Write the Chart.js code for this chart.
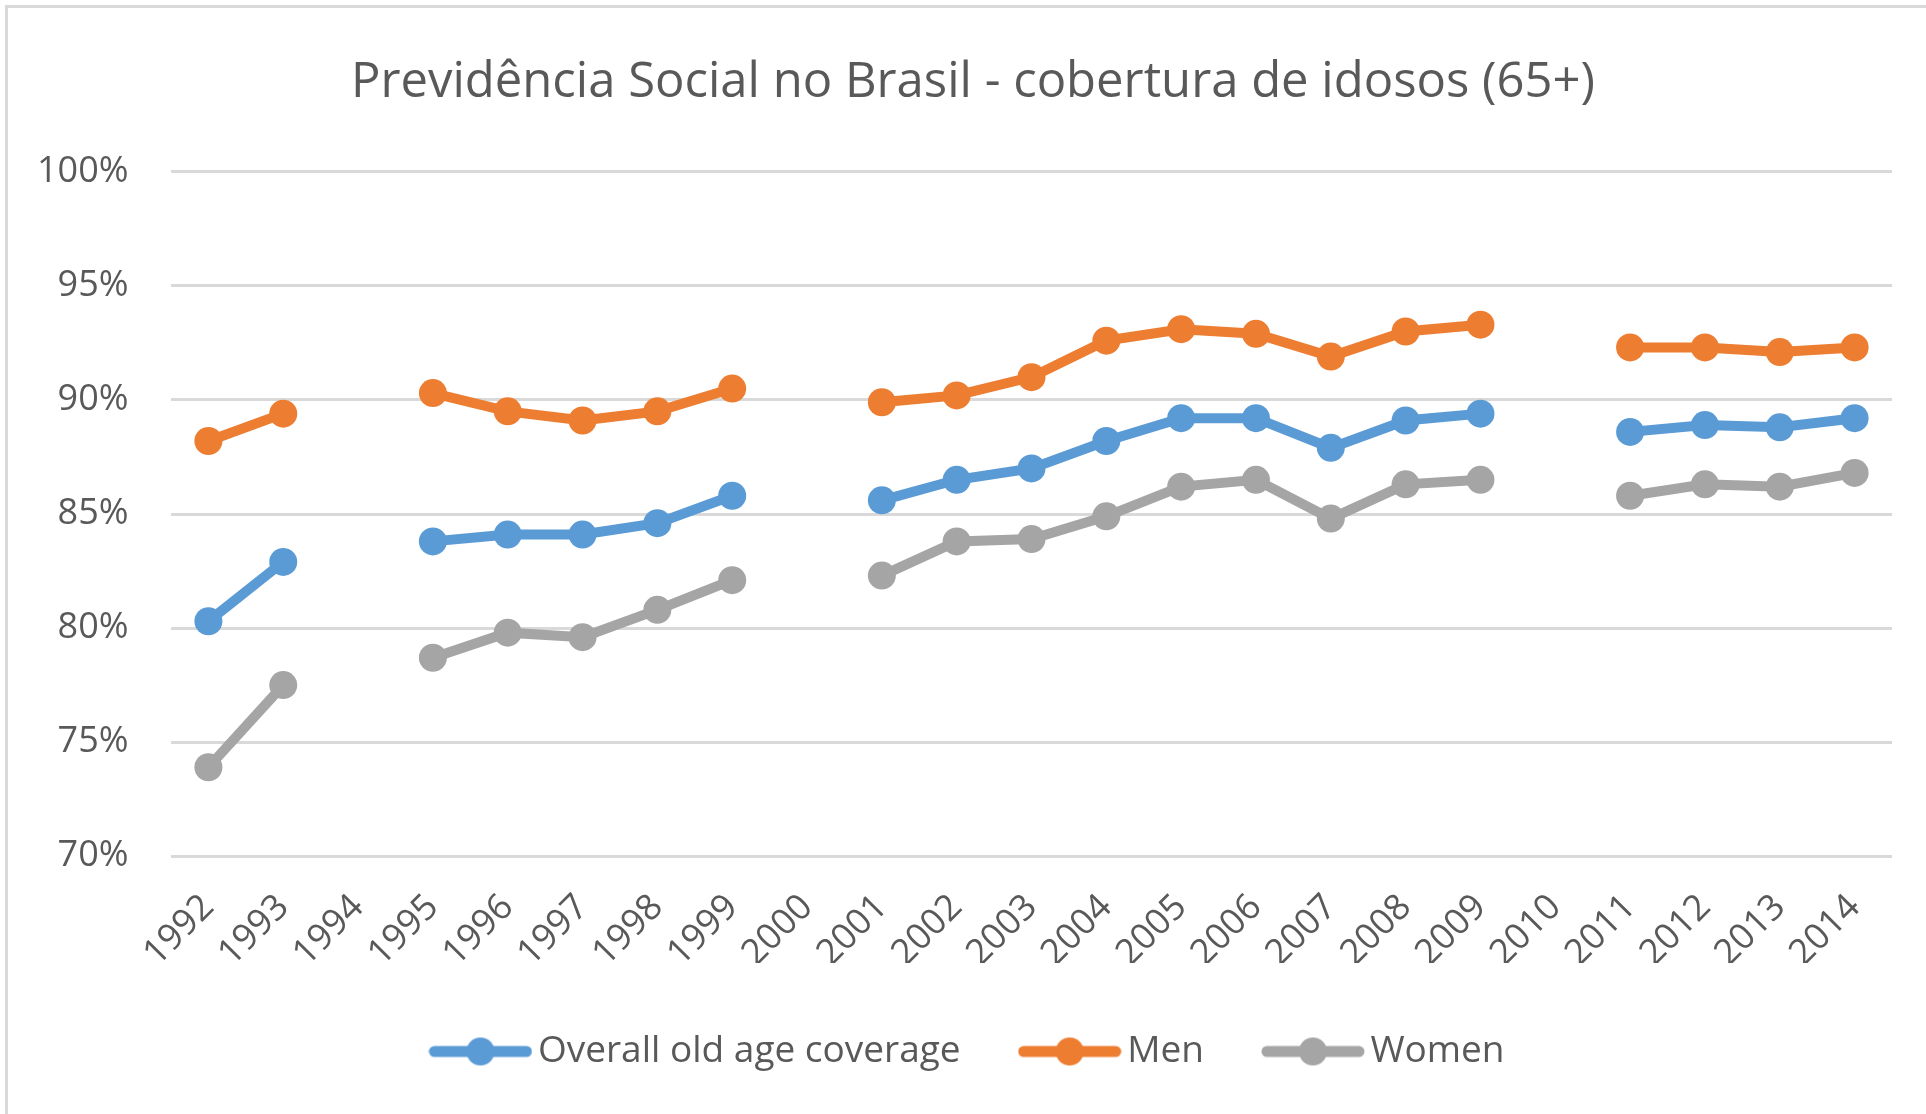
<!DOCTYPE html>
<html>
<head>
<meta charset="utf-8">
<script src="https://cdn.jsdelivr.net/npm/chart.js@4"></script>
<style>
  body { margin: 0; background: #fff; }
  #wrap { position: absolute; left: 5px; top: 5px; width: 1960px; height: 1150px; border: 3px solid #d9d9d9; box-sizing: border-box; }
  #grafico { position: absolute; left: 0; top: 0; }
</style>
</head>
<body>
<div id="wrap"></div>
<canvas id="grafico" width="1926" height="1114"></canvas>
<script>
// anos (1994, 2000 e 2010 sem dados)
var anos = ["1992","1993","1994","1995","1996","1997","1998","1999","2000","2001","2002","2003","2004","2005","2006","2007","2008","2009","2010","2011","2012","2013","2014"];
var geral = [80.3, 82.9, null, 83.8, 84.1, 84.1, 84.6, 85.8, null, 85.6, 86.5, 87.0, 88.2, 89.2, 89.2, 87.9, 89.1, 89.4, null, 88.6, 88.9, 88.8, 89.2];
var homens = [88.2, 89.4, null, 90.3, 89.5, 89.1, 89.5, 90.5, null, 89.9, 90.2, 91.0, 92.6, 93.1, 92.9, 91.9, 93.0, 93.3, null, 92.3, 92.3, 92.1, 92.3];
var mulheres = [73.9, 77.5, null, 78.7, 79.8, 79.6, 80.8, 82.1, null, 82.3, 83.8, 83.9, 84.9, 86.2, 86.5, 84.8, 86.3, 86.5, null, 85.8, 86.3, 86.2, 86.8];
var nomes = ["Overall old age coverage", "Men", "Women"];
var cores = ["#5b9bd5", "#ed7d31", "#a5a5a5"];

var fonte = "'Open Sans', 'Noto Sans', sans-serif";

// simbolo da legenda: linha com bolinha
function simbolo(cor){
    var c = document.createElement("canvas");
    c.width = 104; c.height = 30;
    var g = c.getContext("2d");
    g.strokeStyle = cor;
    g.lineWidth = 11;
    g.lineCap = "round";
    g.beginPath(); g.moveTo(6, 15); g.lineTo(98, 15); g.stroke();
    g.fillStyle = cor;
    g.beginPath(); g.arc(52, 15, 14, 0, Math.PI*2); g.fill();
    return c;
}

function serie(i, dados){
    return {
        label: nomes[i],
        data: dados,
        borderColor: cores[i],
        backgroundColor: cores[i],
        borderWidth: 10,
        pointRadius: 14,
        pointHoverRadius: 14,
        pointBorderWidth: 0,
        pointStyle: 'circle',
        spanGaps: false,
        tension: 0
    };
}

var ctx = document.getElementById("grafico");
var grafico = new Chart(ctx, {
    type: 'line',
    data: {
        labels: anos,
        datasets: [serie(0, geral), serie(1, homens), serie(2, mulheres)]
    },
    options: {
        responsive: false,
        animation: false,
        layout: { padding: { left: 54, right: 34, top: 0, bottom: 34 } },
        plugins: {
            title: {
                display: true,
                text: "Previdência Social no Brasil - cobertura de idosos (65+)",
                color: "#595959",
                font: { family: fonte, size: 49, weight: 'normal' },
                padding: { top: 54, bottom: 59 }
            },
            legend: {
                position: 'bottom',
                labels: {
                    color: "#595959",
                    font: { family: fonte, size: 37 },
                    usePointStyle: true,
                    pointStyleWidth: 78,
                    padding: 70,
                    generateLabels: function(chart){
                        return chart.data.datasets.map(function(ds, i){
                            return { text: ds.label, pointStyle: simbolo(cores[i]), fillStyle: cores[i], strokeStyle: cores[i], lineWidth: 0, datasetIndex: i, fontColor: "#595959" };
                        });
                    }
                }
            },
            tooltip: { enabled: false }
        },
        scales: {
            x: {
                offset: true,
                afterFit: function(s){ s.height -= 34; },
                grid: { display: false },
                border: { display: false },
                ticks: {
                    color: "#595959",
                    font: { family: fonte, size: 36 },
                    minRotation: 45,
                    maxRotation: 45,
                    padding: 22,
                    autoSkip: false
                }
            },
            y: {
                min: 70,
                max: 100,
                afterFit: function(s){ s.width = 117; },
                grid: { color: "#d9d9d9", lineWidth: 3, drawTicks: false },
                border: { display: false },
                ticks: {
                    stepSize: 5,
                    color: "#595959",
                    font: { family: fonte, size: 36 },
                    mirror: true,
                    crossAlign: 'far',
                    padding: -134,
                    callback: function(v){ return v + "%"; }
                }
            }
        }
    }
});
</script>
</body>
</html>
